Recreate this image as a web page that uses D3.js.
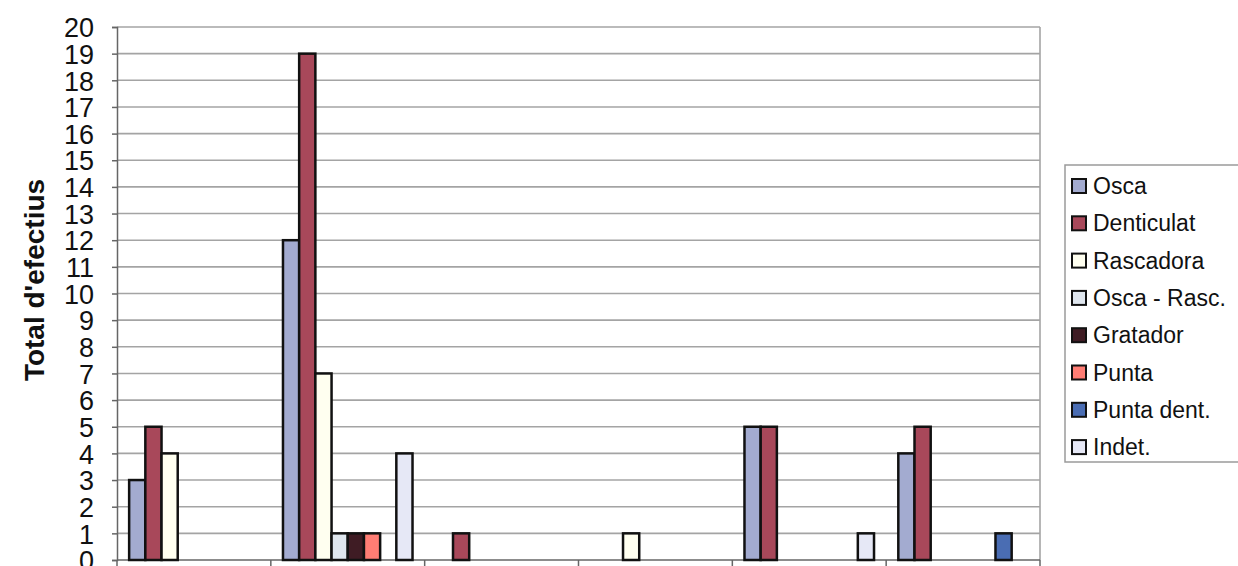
<!DOCTYPE html>
<html>
<head>
<meta charset="utf-8">
<script src="https://cdn.jsdelivr.net/npm/d3@7"></script>
<style>
  html, body { margin: 0; padding: 0; background: #fff; }
  svg { display: block; font-family: Arial, "Liberation Sans", sans-serif; }
</style>
</head>
<body>
<svg id="chart" width="1238" height="566"></svg>
<script>
// Lithic tool counts per level
const categories = ["1", "2", "3", "4", "5", "6"];
const seriesNames = ["Osca", "Denticulat", "Rascadora", "Osca - Rasc.", "Gratador", "Punta", "Punta dent.", "Indet."];
const osca        = [3, 12, 0, 0, 5, 4];
const denticulat  = [5, 19, 1, 0, 5, 5];
const rascadora   = [4, 7, 0, 1, 0, 0];
const oscaRasc    = [0, 1, 0, 0, 0, 0];
const gratador    = [0, 1, 0, 0, 0, 0];
const punta       = [0, 1, 0, 0, 0, 0];
const puntaDent   = [0, 0, 0, 0, 0, 1];
const indet       = [0, 4, 0, 0, 1, 0];
const yTicks = d3.range(0, 21);

const seriesValues = [osca, denticulat, rascadora, oscaRasc, gratador, punta, puntaDent, indet];
const colors = ["#a3abd0", "#a8485a", "#fffff0", "#dfe6ee", "#3f1c24", "#ff7d74", "#4a6db3", "#e6e8f6"];

const svg = d3.select("#chart");
const plotLeft = 117, plotRight = 1040, plotTop = 27, plotBottom = 560;

const x = d3.scaleBand().domain(categories).range([plotLeft, plotRight]).padding(0);
const gapRatio = 1.5; // gap between groups, as a fraction of one bar width
const barW = x.bandwidth() / (seriesNames.length + gapRatio);
const xs = d3.scaleBand().domain(seriesNames)
  .range([barW * gapRatio / 2, x.bandwidth() - barW * gapRatio / 2]).padding(0);
const y = d3.scaleLinear().domain([0, 20]).range([plotBottom, plotTop]);

// horizontal gridlines
svg.append("g").selectAll("line").data(yTicks.filter(d => d > 0)).join("line")
  .attr("x1", plotLeft).attr("x2", plotRight)
  .attr("y1", d => y(d)).attr("y2", d => y(d))
  .attr("stroke", "#a4a4a4").attr("stroke-width", 1.6);

// right plot edge
svg.append("line").attr("x1", plotRight).attr("x2", plotRight).attr("y1", plotTop).attr("y2", plotBottom)
  .attr("stroke", "#a4a4a4").attr("stroke-width", 1.6);

// y axis
const yAxis = d3.axisLeft(y).tickValues(yTicks).tickSize(5).tickPadding(18).tickFormat(d3.format("d"));
const gy = svg.append("g").attr("transform", `translate(${plotLeft},0)`).call(yAxis);
gy.select(".domain").attr("stroke", "#666").attr("stroke-width", 1.5);
gy.selectAll(".tick line").attr("stroke", "#666").attr("stroke-width", 1.5);
gy.selectAll(".tick text").attr("font-size", 27).attr("fill", "#111")
  .attr("font-family", "Arial, 'Liberation Sans', sans-serif").attr("dy", "0.36em");

// x axis line with ticks at group boundaries
svg.append("line").attr("x1", plotLeft).attr("x2", plotRight).attr("y1", plotBottom).attr("y2", plotBottom)
  .attr("stroke", "#666").attr("stroke-width", 1.5);
const bounds = categories.map(c => x(c)).concat([plotRight]);
svg.append("g").selectAll("line").data(bounds).join("line")
  .attr("x1", d => d).attr("x2", d => d).attr("y1", plotBottom).attr("y2", plotBottom + 6)
  .attr("stroke", "#666").attr("stroke-width", 1.5);

// bars
const bars = [];
seriesValues.forEach((vals, si) => {
  vals.forEach((v, ci) => {
    if (v > 0) bars.push({ s: seriesNames[si], c: categories[ci], v, color: colors[si] });
  });
});
svg.append("g").selectAll("rect").data(bars).join("rect")
  .attr("x", d => x(d.c) + xs(d.s))
  .attr("width", xs.bandwidth())
  .attr("y", d => y(d.v))
  .attr("height", d => y(0) - y(d.v))
  .attr("fill", d => d.color)
  .attr("stroke", "#111")
  .attr("stroke-width", 2.5);

// y axis title
svg.append("text")
  .attr("transform", "translate(44,280) rotate(-90)")
  .attr("text-anchor", "middle")
  .attr("font-size", 28).attr("font-weight", "bold").attr("fill", "#111")
  .text("Total d'efectius");

// legend
const lg = svg.append("g");
lg.append("rect").attr("x", 1065).attr("y", 165).attr("width", 200).attr("height", 297)
  .attr("fill", "#fff").attr("stroke", "#9a9a9a").attr("stroke-width", 1.5);
const rows = lg.selectAll("g.row").data(seriesNames).join("g").attr("class", "row")
  .attr("transform", (d, i) => `translate(1072,${186 + i * 37.3})`);
rows.append("rect").attr("x", 0).attr("y", -7).attr("width", 14).attr("height", 14)
  .attr("fill", (d, i) => colors[i]).attr("stroke", "#111").attr("stroke-width", 2);
rows.append("text").attr("x", 21).attr("y", 0).attr("dy", "0.35em")
  .attr("font-size", 23).attr("fill", "#111").text(d => d);
</script>
</body>
</html>
